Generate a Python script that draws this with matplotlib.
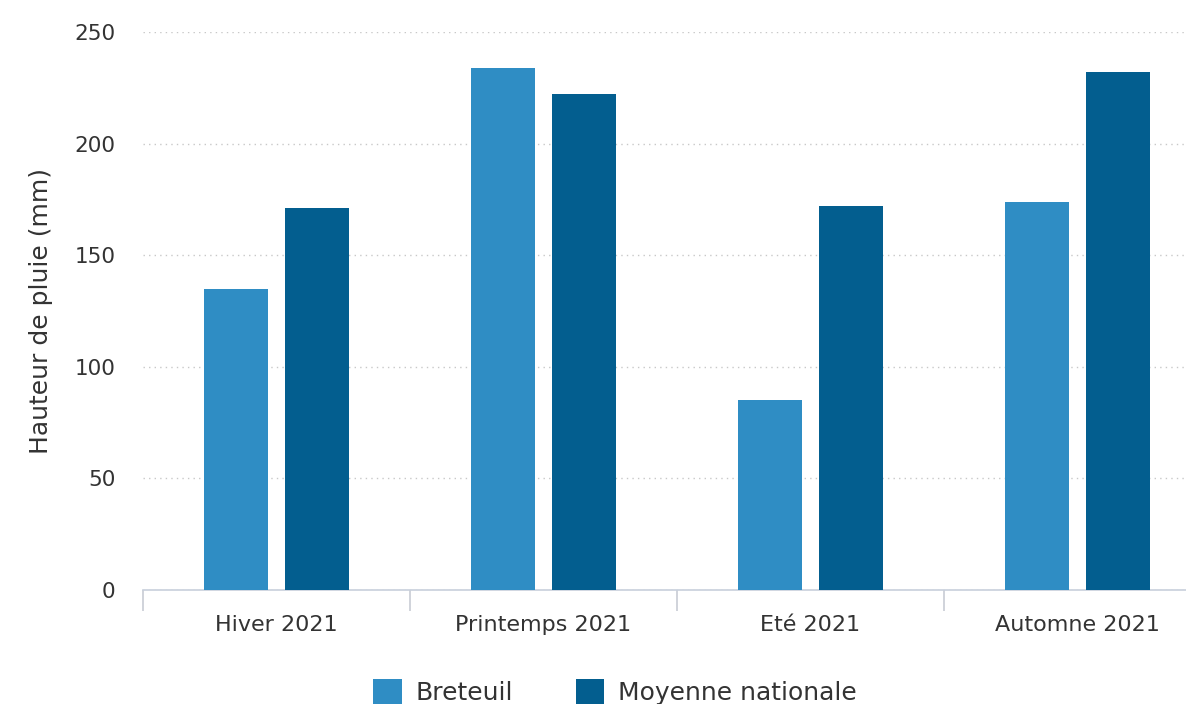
import matplotlib
matplotlib.use("Agg")
import matplotlib.pyplot as plt
import numpy as np
from matplotlib.patches import Patch

categories = ["Hiver 2021", "Printemps 2021", "Eté 2021", "Automne 2021"]
breteuil = [135, 234, 85, 174]
moyenne = [171, 222, 172, 232]
series_names = ["Breteuil", "Moyenne nationale"]
yticks = [0, 50, 100, 150, 200, 250]

c_light = "#2F8DC4"
c_dark = "#035E8F"
txt = "#333333"

plt.rcParams['font.family'] = ['DejaVu Sans']

W, H = 1186, 704
fig = plt.figure(figsize=(W/100, H/100), dpi=100)
left, right = 143/W, 1.0
bottom, top = 1 - 590/H, 1 - 32/H
ax = fig.add_axes([left, bottom, right-left, top-bottom])

x = np.arange(len(categories))
bw = 0.24
off = 0.15
ax.bar(x - off, breteuil, width=bw, color=c_light, zorder=3)
ax.bar(x + off, moyenne, width=bw, color=c_dark, zorder=3)

ax.set_yticks(yticks)
ax.set_yticklabels([str(v) for v in yticks], fontsize=15.5, color=txt)
ax.tick_params(axis='y', length=0, pad=20)
ax.yaxis.grid(True, linestyle=(0, (1, 3)), color="#c8c8c8", linewidth=1.0, zorder=0)

ax.set_xticks(x)
ax.set_xticklabels(categories, fontsize=16, color=txt)
ax.tick_params(axis='x', length=0, pad=18)
ax.set_xticks(np.arange(len(categories) + 1) - 0.5, minor=True)
ax.tick_params(axis='x', which='minor', length=15, color="#c8ccd4", width=1.2)

ax.set_xlim(-0.5, -0.5 + (W - 143) / 267)
ax.set_ylim(0, 250)

for s in ["top", "right", "left"]:
    ax.spines[s].set_visible(False)
ax.spines["bottom"].set_color("#c8d0dc")
ax.spines["bottom"].set_linewidth(1.2)

ax.set_ylabel("Hauteur de pluie (mm)", fontsize=18, color=txt)
ax.yaxis.set_label_coords(-(143 - 41) / (W - 143), 0.5)
ax.yaxis.label.set_verticalalignment("center")

handles = [Patch(facecolor=c_light), Patch(facecolor=c_dark)]
fig.legend(handles, series_names, loc="center", bbox_to_anchor=(615/W, 1 - 692/H),
           ncol=2, frameon=False, fontsize=18, handlelength=1.15, handleheight=1.15,
           handletextpad=0.55, columnspacing=2.5, labelcolor=txt)

fig.savefig("out.png", dpi=100)
